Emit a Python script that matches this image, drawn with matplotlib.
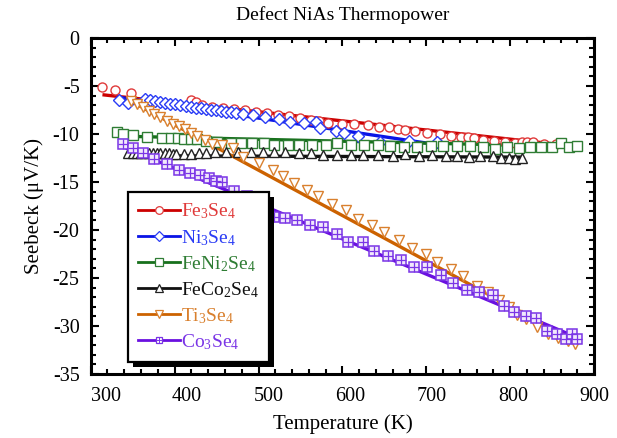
import numpy as np
import matplotlib
matplotlib.use("Agg")
import matplotlib.pyplot as plt
from matplotlib.lines import Line2D
from matplotlib.patches import Rectangle
from matplotlib.transforms import IdentityTransform, ScaledTranslation
from matplotlib.legend_handler import HandlerTuple
from matplotlib.ticker import MultipleLocator

plt.rcParams['font.family'] = ['Liberation Serif', 'DejaVu Serif']
plt.rcParams['mathtext.default'] = 'regular'
plt.rcParams['axes.unicode_minus'] = False

# Fe3Se4
fe3_t = [314, 329, 348, 419, 426, 433, 445, 458, 471, 484, 497, 510, 523, 536, 549, 562, 572,
         583, 600, 614, 630, 643, 655, 666, 674, 687, 701, 716, 729, 741, 750, 757, 768, 781,
         794, 806, 814, 820, 827, 840, 854]
fe3_s = [-5.1, -5.4, -5.7, -6.5, -6.7, -7.0, -7.2, -7.3, -7.4, -7.5, -7.7, -7.8, -8.0, -8.1,
         -8.3, -8.5, -8.6, -8.8, -8.9, -9.0, -9.1, -9.3, -9.24, -9.45, -9.55, -9.66, -9.87,
         -9.97, -10.18, -10.28, -10.28, -10.38, -10.59, -10.69, -10.8, -10.9, -10.8, -10.8,
         -10.8, -11.0, -11.0]
fe3_fit_t = [314, 860]
fe3_fit_s = [-5.9, -11.1]

# Ni3Se4
ni3_t = [334, 344, 365, 371, 377, 383, 389, 395, 401, 407, 413, 419, 425, 431, 437, 443, 449,
         455, 461, 467, 473, 482, 494, 508, 524, 538, 554, 569, 573, 592, 602, 618, 645, 679, 713]
ni3_s = [-6.44, -6.75, -6.33, -6.44, -6.54, -6.65, -6.75, -6.85, -6.85, -6.96, -7.06, -7.17,
         -7.27, -7.27, -7.37, -7.48, -7.48, -7.58, -7.68, -7.68, -7.79, -7.89, -8.0, -8.2,
         -8.41, -8.72, -8.83, -8.72, -9.35, -9.66, -9.87, -10.18, -10.8, -10.7, -10.8]
ni3_fit_t = [336, 713]
ni3_fit_s = [-6.2, -11.1]

# FeNi2Se4
feni_t = [331, 339, 351, 367, 385, 396, 404, 411, 419, 427, 437, 451, 467, 479, 492, 506, 518,
          535, 548, 564, 580, 594, 610, 626, 642, 657, 673, 689, 705, 720, 737, 752, 768, 782,
          796, 810, 824, 837, 850, 861, 870, 880]
feni_s = [-9.76, -9.97, -10.07, -10.28, -10.38, -10.38, -10.38, -10.49, -10.49, -10.49, -10.7,
          -10.8, -10.9, -10.9, -10.9, -10.9, -11.11, -11.11, -11.11, -11.11, -11.11, -10.9,
          -11.11, -11.11, -11.11, -11.21, -11.32, -11.32, -11.21, -11.21, -11.21, -11.21,
          -11.32, -11.53, -11.32, -11.42, -11.32, -11.32, -11.32, -10.9, -11.32, -11.21]
feni_fit_t = [328, 880]
feni_fit_s = [-10.2, -11.3]

# FeCo2Se4
feco_t = [345, 350, 355, 360, 364, 369, 374, 379, 383, 388, 393, 398, 402, 411, 419, 429, 438,
          448, 461, 476, 491, 505, 518, 532, 548, 562, 577, 594, 610, 625, 642, 660, 675, 691,
          707, 723, 737, 751, 764, 779, 789, 798, 806, 814]
feco_s = [-11.94, -11.94, -11.94, -11.94, -11.94, -11.94, -12.0, -12.0, -12.0, -12.0, -12.0,
          -12.05, -12.05, -12.05, -12.05, -11.94, -11.94, -11.84, -11.84, -11.84, -11.84,
          -11.84, -11.84, -11.84, -11.94, -11.94, -12.15, -12.15, -12.15, -12.15, -12.15,
          -12.25, -12.05, -12.25, -12.15, -12.25, -12.25, -12.36, -12.25, -12.25, -12.46,
          -12.46, -12.56, -12.46]
feco_fit_t = [344, 814]
feco_fit_s = [-12.25, -12.4]

# Ti3Se4
ti3_t = [348, 355, 362, 369, 376, 383, 391, 398, 405, 412, 419, 427, 436, 445, 457, 469, 482,
         500, 517, 529, 542, 558, 571, 588, 604, 619, 635, 650, 667, 683, 699, 713, 729, 744,
         760, 774, 787, 798, 808, 819, 832, 845, 857, 869, 877]
ti3_s = [-6.6, -6.9, -7.2, -7.6, -7.9, -8.2, -8.6, -8.9, -9.2, -9.5, -9.9, -10.2, -10.6, -11.0,
         -11.1, -11.5, -12.4, -13.0, -13.7, -14.4, -15.1, -15.8, -16.5, -17.3, -17.9, -18.8,
         -19.5, -20.2, -21.0, -21.9, -22.5, -23.3, -24.1, -24.8, -25.8, -26.5, -27.3, -28.0,
         -28.8, -29.3, -30.1, -30.8, -31.2, -31.6, -31.9]
ti3_fit_t = [342, 865]
ti3_fit_s = [-6.3, -31.0]

# Co3Se4
co3_t = [338, 350, 362, 375, 391, 405, 418, 430, 441, 449, 457, 471, 486, 502, 518, 532, 546,
         561, 577, 593, 607, 624, 638, 654, 670, 685, 701, 717, 732, 748, 763, 779, 792, 805,
         819, 831, 844, 856, 866, 874, 879]
co3_s = [-11.0, -11.5, -12.0, -12.6, -13.1, -13.7, -14.1, -14.3, -14.6, -14.9, -15.0, -15.9,
         -16.5, -17.3, -18.6, -18.7, -18.9, -19.5, -19.7, -20.4, -21.2, -21.2, -22.2, -22.7,
         -23.1, -23.8, -23.8, -24.7, -25.5, -26.2, -26.5, -26.8, -27.9, -28.5, -28.9, -29.2,
         -30.5, -30.8, -31.3, -30.8, -31.3]
co3_fit_t = [338, 869]
co3_fit_s = [-11.3, -30.8]

xticks = [300, 400, 500, 600, 700, 800, 900]
yticks = [0, -5, -10, -15, -20, -25, -30, -35]

fig = plt.figure(figsize=(6.17, 4.38), dpi=100)
ax = fig.add_axes([0.147, 0.146, 0.816, 0.767])

series = [
    ('Fe$_3$Se$_4$', fe3_t, fe3_s, fe3_fit_t, fe3_fit_s, '#cc0000', '#e03a3a', 'o', 6.5),
    ('Ni$_3$Se$_4$', ni3_t, ni3_s, ni3_fit_t, ni3_fit_s, '#0a14e6', '#2a3cf5', 'D', 6),
    ('FeNi$_2$Se$_4$', feni_t, feni_s, feni_fit_t, feni_fit_s, '#17701c', '#2f7d34', 's', 6.5),
    ('FeCo$_2$Se$_4$', feco_t, feco_s, feco_fit_t, feco_fit_s, '#111111', '#222222', '^', 6.5),
    ('Ti$_3$Se$_4$', ti3_t, ti3_s, ti3_fit_t, ti3_fit_s, '#cc6200', '#d9802e', 'v', 7.5),
    ('Co$_3$Se$_4$', co3_t, co3_s, co3_fit_t, co3_fit_s, '#6a10e0', '#7a35e6', 's', 6.5),
]

handles = []
labels = []
for name, t, s, ft, fs, lc, mc, mk, ms in series:
    ax.plot(ft, fs, color=lc, lw=2.4, zorder=2, solid_capstyle='butt')
    if name.startswith('Co'):
        ax.plot(t, s, ls='none', marker='s', ms=ms, mfc='#f1e8fc', mec=mc, mew=1.1, zorder=3)
        ax.plot(t, s, ls='none', marker='+', ms=ms, mec=mc, mew=0.9, zorder=3)
        h = (Line2D([], [], color=lc, lw=2, marker='s', ms=5, mfc='white', mec=mc, mew=0.9),
             Line2D([], [], ls='none', marker='+', ms=5, mec=mc, mew=0.7))
    else:
        ax.plot(t, s, ls='none', marker=mk, ms=ms, mfc='white', mec=mc, mew=1.0, zorder=3)
        h = Line2D([], [], color=lc, lw=2, marker=mk, ms=5.5, mfc='white', mec=mc, mew=0.9)
    handles.append(h)
    labels.append(name)

ax.set_xlim(300, 900)
ax.set_ylim(-35, 0)
ax.set_xticks(xticks)
ax.set_yticks(yticks)
ax.xaxis.set_minor_locator(MultipleLocator(20))
ax.yaxis.set_minor_locator(MultipleLocator(1))
ax.tick_params(which='both', direction='in', top=True, right=True, width=1.5, labelsize=14.5)
ax.tick_params(which='major', length=6)
ax.tick_params(which='minor', length=3.5)
ax.tick_params(axis='x', pad=9)
ax.tick_params(axis='y', pad=8)
for sp in ax.spines.values():
    sp.set_linewidth(2.2)

ax.set_title('Defect NiAs Thermopower', fontsize=14, pad=13)
ax.set_xlabel('Temperature (K)', fontsize=15, labelpad=6)
ax.set_ylabel('Seebeck (μV/K)', fontsize=15, labelpad=6)

leg = ax.legend(handles, labels, loc='upper left', bbox_to_anchor=(0.074, 0.542),
                borderaxespad=0, fontsize=14, handlelength=2.2, handletextpad=0.05,
                labelspacing=0.33, borderpad=0.5, fancybox=False, framealpha=1,
                edgecolor='black', handler_map={tuple: HandlerTuple(ndivide=1)})
leg.get_frame().set_linewidth(1.6)
leg.set_zorder(6)
for txt, (_, _, _, _, _, lc, mc, _, _) in zip(leg.get_texts(), series):
    txt.set_color(mc if lc != '#111111' else '#111111')

# label positions drift slightly right toward low temperatures in the reference
for lbl, v in zip(ax.get_xticklabels(), xticks):
    dx = 15 * (900 - v) / 600 / 100.0
    lbl.set_transform(lbl.get_transform() + ScaledTranslation(dx, 0, fig.dpi_scale_trans))

fig.canvas.draw()
bb = leg.get_window_extent()
shadow = Rectangle((bb.x0 + 5, bb.y0 - 5), bb.width, bb.height, transform=IdentityTransform(),
                   facecolor='black', edgecolor='none', zorder=5.9, clip_on=False)
ax.add_artist(shadow)

fig.savefig('out.png', dpi=100)
